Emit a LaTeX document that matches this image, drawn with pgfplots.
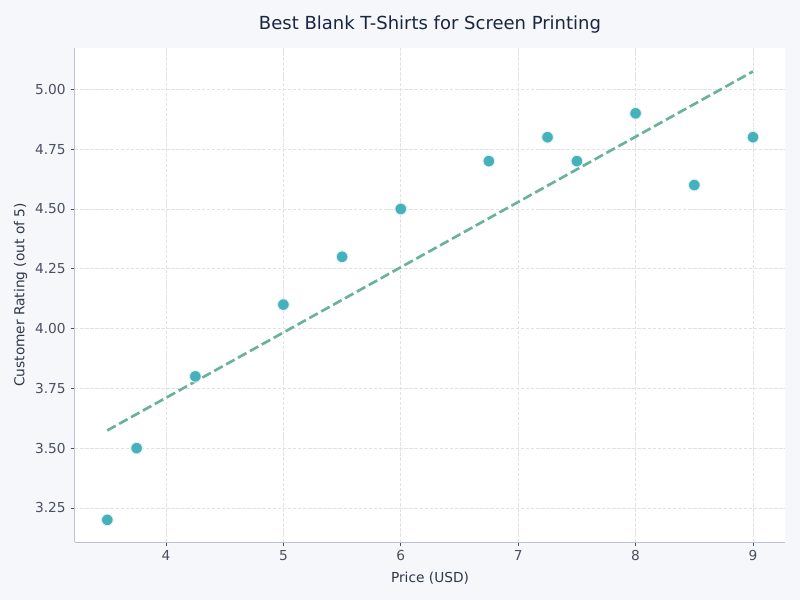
\documentclass[border=0pt]{standalone}
\usepackage{pgfplots}
\pgfplotsset{compat=1.18}
\usepackage{fontspec}
\setmainfont{DejaVu Sans}
\definecolor{bgc}{HTML}{F5F7FB}
\definecolor{spinec}{HTML}{BDC0D0}
\definecolor{gridc}{HTML}{E2E2E5}
\definecolor{tickc}{HTML}{4A5060}
\definecolor{labc}{HTML}{2E3648}
\definecolor{titc}{HTML}{1A2540}
\definecolor{linec}{HTML}{69B398}
\definecolor{dotc}{HTML}{45B1BD}
\begin{document}
\begin{tikzpicture}
\path[fill=bgc] (-56.25pt,-43.5pt) rectangle (543.75pt,406.5pt);
\begin{axis}[
  at={(0pt,0pt)}, anchor=south west,
  scale only axis, width=532.5pt, height=370.5pt,
  xmin=3.225, xmax=9.2726, ymin=3.1075, ymax=5.173,
  axis background/.style={fill=white},
  axis x line*=bottom, axis y line*=left,
  axis line style={draw=spinec, line width=0.75pt, -},
  xtick={4,5,6,7,8,9},
  ytick={3.25,3.5,3.75,4,4.25,4.5,4.75,5},
  yticklabel style={xshift=-0.5pt, /pgf/number format/.cd, fixed, fixed zerofill, precision=2, assume math mode=true},
  xticklabel style={/pgf/number format/assume math mode=true},
  tick style={draw=tickc, line width=0.6pt},
  major tick length=3pt,
  tick align=outside,
  ticklabel style={font=\fontsize{10.3}{12}\selectfont, text=tickc},
  grid=major,
  grid style={draw=gridc, line width=0.55pt, dash pattern=on 2.6pt off 1.2pt},
  xlabel={Price (USD)},
  ylabel={Customer Rating (out of 5)},
  xlabel style={font=\fontsize{10.3}{12}\selectfont, text=labc, yshift=-1.5pt},
  ylabel style={font=\fontsize{10.3}{12}\selectfont, text=labc, yshift=-1pt},
  clip=false,
]
\addplot[only marks, mark=*, mark size=4.4pt, mark options={fill=dotc, draw=white!85!dotc, line width=0.7pt}] coordinates {
(3.5,3.2)(3.75,3.5)(4.25,3.8)(5,4.1)(5.5,4.3)(6,4.5)(6.75,4.7)(7.25,4.8)(7.5,4.7)(8,4.9)(8.5,4.6)(9,4.8)};
\addplot[no marks, draw=linec, line width=2pt, dash pattern=on 7.2pt off 3pt] coordinates {(3.5,3.574)(9,5.075)};
\end{axis}
\node[font=\fontsize{13.5}{15}\selectfont, text=titc] at (266.25pt,388pt) {Best Blank T-Shirts for Screen Printing};
\end{tikzpicture}
\end{document}
